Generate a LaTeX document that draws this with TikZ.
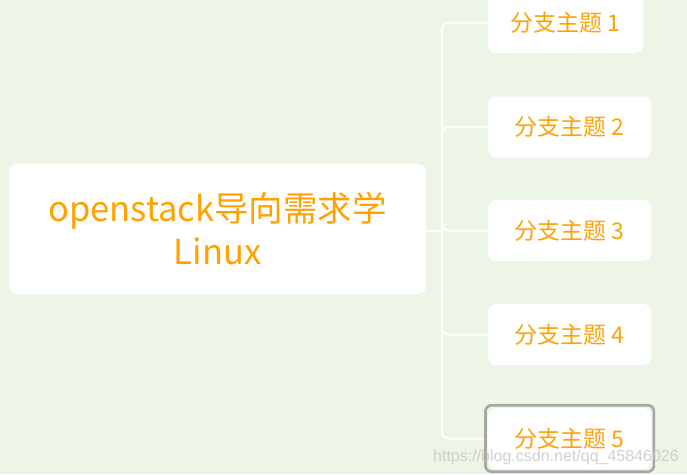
\documentclass[tikz,border=0pt]{standalone}
\usepackage{fontspec}
\setmainfont{Noto Sans CJK SC}
\newfontfamily\wmfont{Liberation Sans}
\definecolor{bgc}{HTML}{EDF5E7}
\definecolor{txt}{HTML}{FFA200}
\definecolor{selc}{HTML}{A3A8A1}
\begin{document}
\begin{tikzpicture}[x=1pt,y=-1pt,
  rootbox/.style={fill=white, rounded corners=8pt, minimum width=417pt, minimum height=130pt,
    inner sep=0pt, align=center, text=txt, font=\fontsize{34.5}{43}\selectfont},
  branchbox/.style={fill=white, rounded corners=8pt, minimum height=61pt, inner sep=0pt,
    anchor=west, text=txt, font=\fontsize{23}{27}\selectfont},
  link/.style={draw=white, line width=2pt, rounded corners=7pt},
  selframe/.style={draw=selc, line width=2.6pt, rounded corners=6pt}]
\useasboundingbox[fill=bgc] (0,0) rectangle (687,474);
\node[rootbox] (root) at (217.5,229) {openstack导向需求学\\Linux};
\node[branchbox, minimum width=155pt] (b1) at (488,22.5) {分支主题 1};
\node[branchbox, minimum width=163pt] (b2) at (488,127) {分支主题 2};
\node[branchbox, minimum width=163pt] (b3) at (488,230.5) {分支主题 3};
\node[branchbox, minimum width=163pt] (b4) at (488,334.5) {分支主题 4};
\node[branchbox, minimum width=163pt] (b5) at (488,438.5) {分支主题 5};
\coordinate (hub) at (442,230.5);
\draw[link] (root.east |- hub) -- (hub);
\foreach \b in {b1,b2,b3,b4,b5}{
  \draw[link] (hub) |- (\b.west);
}
\draw[selframe] ([xshift=-2.5pt,yshift=-2.5pt]b5.south west) rectangle ([xshift=2.5pt,yshift=2.5pt]b5.north east);
\node[text=gray!45, opacity=0.8, font=\wmfont\fontsize{16}{18}\selectfont, anchor=base west, inner sep=0pt] (wm) at (433,461) {https://blog.csdn.net/qq\_45846026};
\end{tikzpicture}
\end{document}
